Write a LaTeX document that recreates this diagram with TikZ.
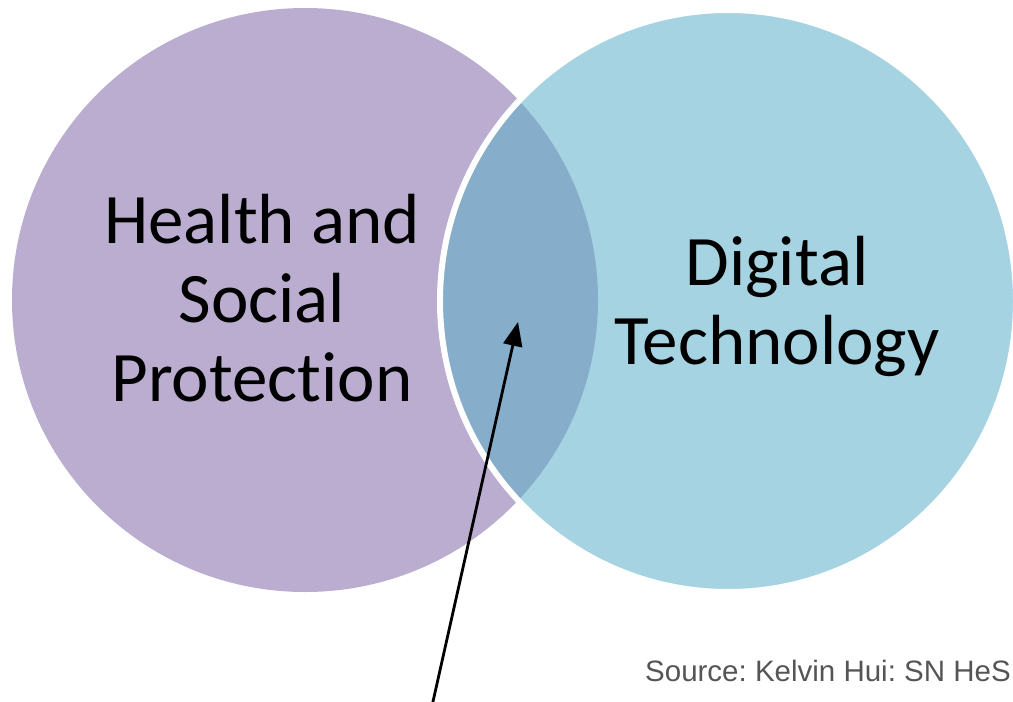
\documentclass[tikz,border=0pt]{standalone}
\usepackage{fontspec}
\setmainfont{Carlito}[Ligatures=CommonOff]
\newfontfamily\srcfont{Liberation Sans}
\usetikzlibrary{arrows.meta}
\definecolor{hpurple}{HTML}{BAADCF}
\definecolor{dblue}{HTML}{A6D3E1}
\definecolor{ovblue}{HTML}{86ADCA}
\definecolor{srcgray}{HTML}{555555}
\frenchspacing
\tikzset{
  bigtext/.style={font=\fontsize{71}{79}\selectfont, text=black, align=center, inner sep=0pt},
  srctext/.style={font=\srcfont\fontsize{29.5}{33}\selectfont, text=srcgray, inner sep=0pt},
  pointer/.style={line width=2.8pt, -{Triangle[length=24pt,width=19pt]}}
}
\begin{document}
\begin{tikzpicture}[x=1pt,y=-1pt]
\useasboundingbox (0,0) rectangle (1013,702);
\clip (0,0) rectangle (1013,702);
% left circle
\fill[hpurple] (305,300) ellipse [x radius=293, y radius=292];
% right circle
\fill[dblue] (728,301) ellipse [x radius=288, y radius=291];
% overlap
\begin{scope}
  \clip (305,300) ellipse [x radius=293, y radius=292];
  \fill[ovblue] (728,301) ellipse [x radius=288, y radius=291];
\end{scope}
% white outline of right circle
\draw[white, line width=6pt] (728,301) ellipse [x radius=288, y radius=291];
% labels
\node[bigtext] (hsp) at (262,298) {Health and\\Social\\Protection};
\node[bigtext] (dt) at (777,306) {Digital\\Technology};
\node[srctext, anchor=base east] (src) at (1011,681) {Source: Kelvin Hui: SN HeS};
% arrow
\coordinate (tail) at (432,706);
\coordinate (tip) at (518,322);
\draw[pointer] (tail) -- (tip);
\end{tikzpicture}
\end{document}
